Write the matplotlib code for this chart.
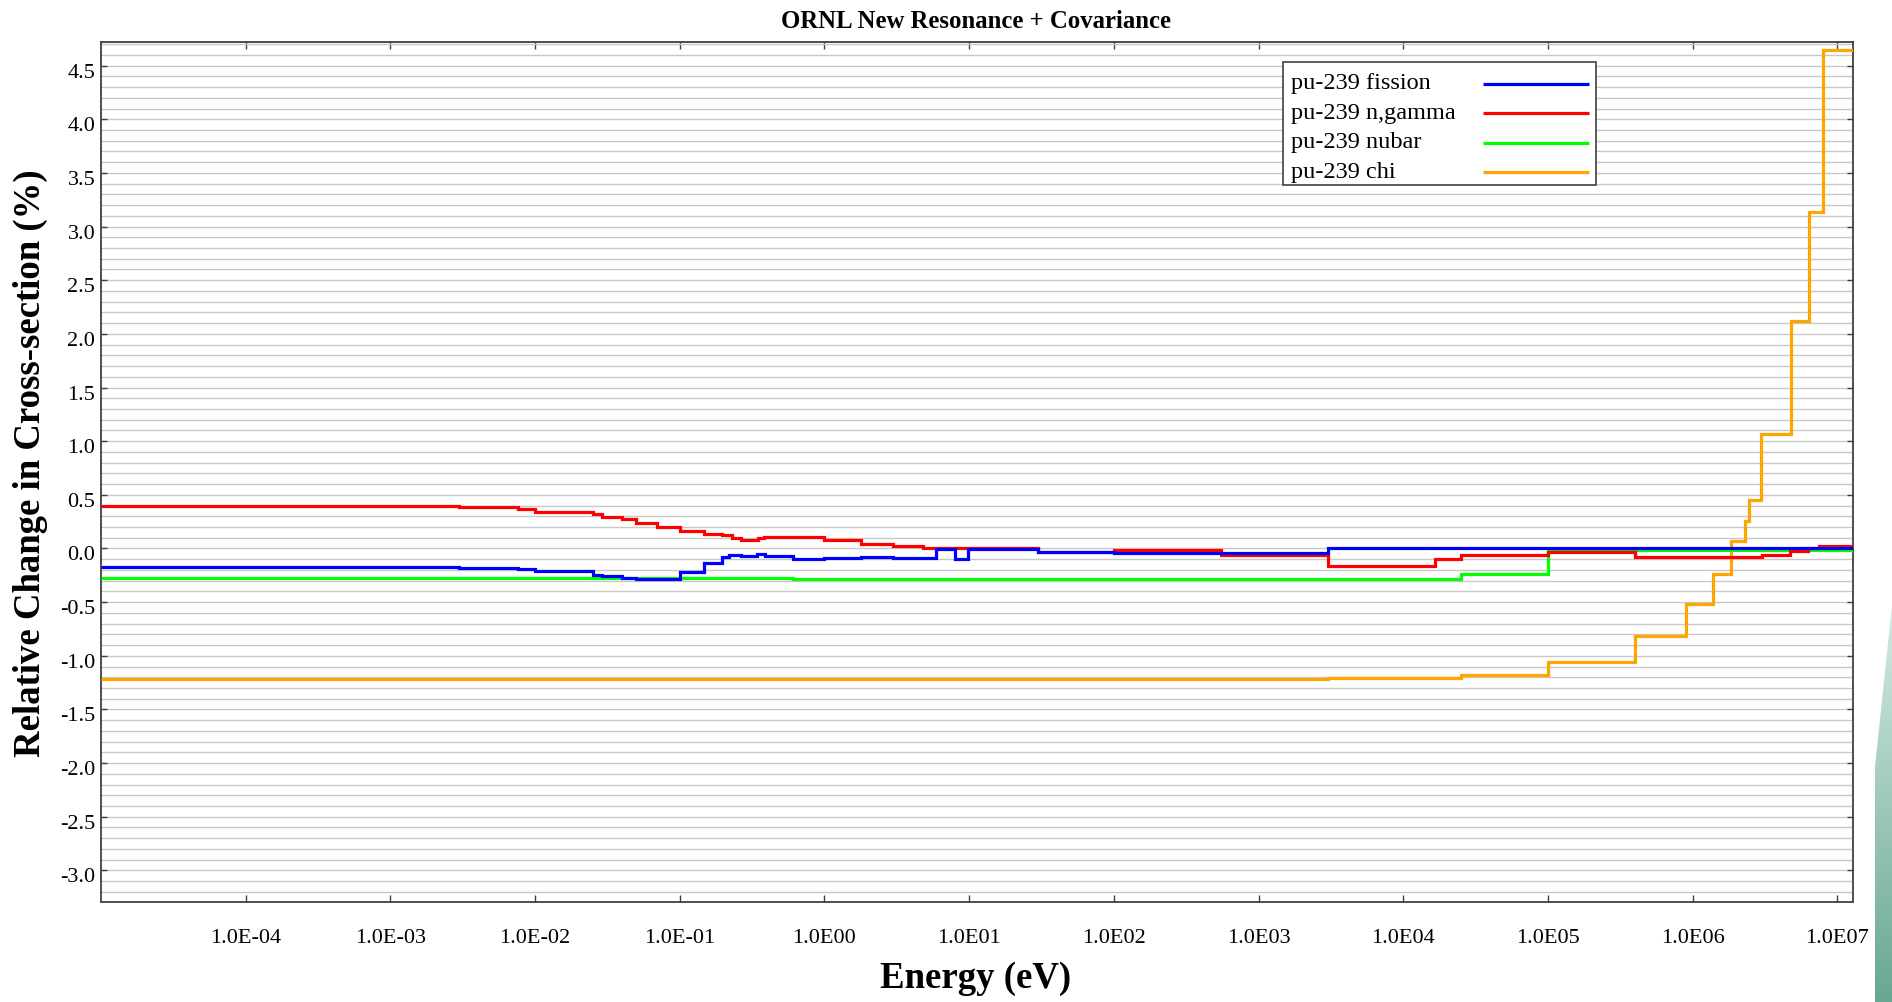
import numpy as np
import matplotlib
matplotlib.use('Agg')
import matplotlib.pyplot as plt
from matplotlib.ticker import FixedLocator, MultipleLocator, NullLocator, FuncFormatter
from matplotlib.patches import Rectangle, Polygon
from matplotlib.colors import LinearSegmentedColormap
from matplotlib.transforms import ScaledTranslation

plt.rcParams['font.family'] = ['Liberation Serif', 'DejaVu Serif']

# 各曲线的能量分界点(eV)和每个能群的相对变化(%)
fission_edges = [1e-5, 3.0e-3, 7.6e-3, 1.0e-2, 2.5e-2, 2.9e-2, 4.0e-2, 5.0e-2, 0.1, 0.148,
                 0.197, 0.22, 0.265, 0.34, 0.39, 0.61, 1.0, 1.78, 2.97, 5.9,
                 8.0, 9.8, 30, 100, 3.0e3, 2e7]
fission_vals = [-0.170, -0.180, -0.195, -0.214, -0.248, -0.260, -0.276, -0.284, -0.223, -0.136,
                -0.077, -0.059, -0.068, -0.053, -0.074, -0.099, -0.090, -0.077, -0.090, -0.006,
                -0.099, -0.006, -0.037, -0.046, 0.009]

ngamma_edges = [1e-5, 3.0e-3, 7.6e-3, 1.0e-2, 2.5e-2, 2.9e-2, 4.0e-2, 5.0e-2, 7.0e-2, 0.1,
                0.148, 0.197, 0.23, 0.265, 0.347, 0.38, 1.0, 1.78, 2.97, 4.8,
                5.8, 30, 100, 550, 3.0e3, 1.66e4, 2.5e4, 1.0e5, 4.0e5, 9.0e5,
                1.8e6, 3.0e6, 4.7e6, 6.3e6, 7.5e6, 2e7]
ngamma_vals = [0.396, 0.387, 0.372, 0.344, 0.319, 0.294, 0.272, 0.241, 0.204, 0.164,
               0.139, 0.124, 0.102, 0.080, 0.093, 0.111, 0.080, 0.046, 0.025, 0.009,
               0.000, -0.035, -0.012, -0.065, -0.165, -0.096, -0.059, -0.034, -0.084, -0.075,
               -0.084, -0.059, -0.025, 0.006, 0.020]

nubar_edges = [1e-5, 0.61, 2.5e4, 1.0e5, 2e7]
nubar_vals = [-0.272, -0.285, -0.242, -0.015]

chi_edges = [1e-5, 3.0e3, 2.5e4, 1.0e5, 4.0e5, 9.0e5, 1.38e6, 1.83e6, 2.3e6, 2.43e6,
             2.95e6, 4.75e6, 6.35e6, 8.0e6, 2e7]
chi_vals = [-1.214, -1.205, -1.180, -1.060, -0.817, -0.516, -0.236, 0.068, 0.260, 0.455,
            1.066, 2.121, 3.138, 4.643]

labels = ['pu-239 fission', 'pu-239 n,gamma', 'pu-239 nubar', 'pu-239 chi']
colors = ['#0000ff', '#ff0000', '#00ff00', '#ffa500']
decades = [-4, -3, -2, -1, 0, 1, 2, 3, 4, 5, 6, 7]


def energy_label(x, pos):
    e = int(round(np.log10(x)))
    if e < 0:
        return '1.0E-%02d' % abs(e)
    return '1.0E%02d' % e


def draw_legend(ax):
    # 图例: 文字在左, 线段在右
    ax.add_patch(Rectangle((0.6747, 0.8335), 0.1786, 0.1435, transform=ax.transAxes,
                           facecolor='white', edgecolor='#404040', lw=1.2, zorder=5))
    for i, (lab, col) in enumerate(zip(labels, colors)):
        yy = 0.9515 - i * 0.0344
        ax.text(0.679, yy, lab, transform=ax.transAxes, va='center', ha='left',
                fontsize=17.5, zorder=6)
        ax.plot([0.789, 0.8493], [yy, yy], transform=ax.transAxes, color=col,
                lw=2.3, solid_capstyle='butt', zorder=6)


def draw_corner(fig):
    # 右下角的青绿色装饰块
    gax = fig.add_axes([1866 / 1892, 0, 26 / 1892, 400 / 1002])
    gax.set_axis_off()
    grad = np.linspace(0, 1, 256).reshape(-1, 1)
    cmap = LinearSegmentedColormap.from_list('teal', ['#d6ebe3', '#68a791'])
    im = gax.imshow(grad, aspect='auto', cmap=cmap, extent=[0, 1, 0, 1])
    poly = Polygon([[1875 / 1892, 0], [1875 / 1892, 1 - 767 / 1002],
                    [1.0, 1 - 605 / 1002], [1.0, 0]], transform=fig.transFigure)
    im.set_clip_path(poly)


def main():
    fig = plt.figure(figsize=(18.92, 10.02), dpi=100)
    ax = fig.add_axes([100.8 / 1892, 1 - 901.5 / 1002, 1752.2 / 1892, 859.5 / 1002])

    # 按 chi, nubar, n,gamma, fission 的顺序画, fission 在最上层
    series = [(fission_edges, fission_vals), (ngamma_edges, ngamma_vals),
              (nubar_edges, nubar_vals), (chi_edges, chi_vals)]
    for k in [3, 2, 1, 0]:
        edges, vals = series[k]
        ax.stairs(vals, edges, baseline=None, color=colors[k], lw=2.3, zorder=3 + (3 - k) * 0.1)

    ax.set_xscale('log')
    ax.set_xlim(1e-5, 1.28e7)
    ax.set_ylim(-3.29, 4.72)

    ax.xaxis.set_major_locator(FixedLocator([10.0 ** d for d in decades]))
    ax.xaxis.set_major_formatter(FuncFormatter(energy_label))
    ax.xaxis.set_minor_locator(NullLocator())
    ax.yaxis.set_major_locator(MultipleLocator(0.5))
    ax.yaxis.set_minor_locator(MultipleLocator(0.1))
    ax.yaxis.set_major_formatter(FuncFormatter(lambda v, p: '%.1f' % v))

    ax.grid(True, which='both', axis='y', color='#c8c8c8', lw=1.0, zorder=1)
    ax.set_axisbelow(True)

    ax.tick_params(which='major', direction='in', top=True, right=True, color='#404040', width=1.0)
    ax.tick_params(axis='x', which='major', length=5, pad=20, labelsize=16)
    ax.tick_params(axis='y', which='major', length=4.3, pad=4, labelsize=16)
    ax.tick_params(which='minor', length=0)
    for s in ax.spines.values():
        s.set_color('#404040')
        s.set_linewidth(1.3)

    # y 轴刻度文字略低于刻度线
    off = ScaledTranslation(0, -0.05, fig.dpi_scale_trans)
    for lab in ax.get_yticklabels():
        lab.set_transform(lab.get_transform() + off)

    draw_legend(ax)

    fig.text(976 / 1892, 1 - 21 / 1002, 'ORNL New Resonance + Covariance',
             ha='center', va='center', fontsize=17.8, fontweight='bold')
    fig.text(976 / 1892, 1 - 978 / 1002, 'Energy (eV)',
             ha='center', va='center', fontsize=26.5, fontweight='bold')
    fig.text(30 / 1892, 1 - 463 / 1002, 'Relative Change in Cross-section (%)',
             ha='center', va='center', rotation=90, fontsize=26.5, fontweight='bold')

    draw_corner(fig)
    fig.savefig('out.png', dpi=100)


if __name__ == '__main__':
    main()
